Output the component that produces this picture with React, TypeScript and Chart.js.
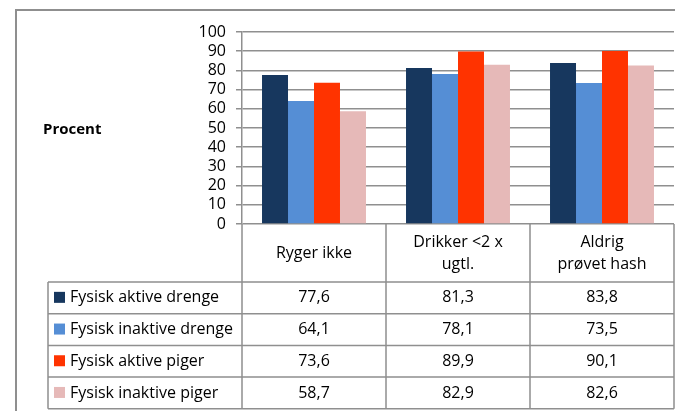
import React, { useEffect, useRef } from "react";
import { Chart, registerables } from "chart.js";

Chart.register(...registerables);

const categories: (string | string[])[] = ["Ryger ikke", ["Drikker <2 x", "ugtl."], ["Aldrig", "prøvet hash"]];
const seriesNames = ["Fysisk aktive drenge", "Fysisk inaktive drenge", "Fysisk aktive piger", "Fysisk inaktive piger"];
const seriesColors = ["#17375e", "#558ed5", "#ff3300", "#e6b9b8"];
const activeBoys = [77.6, 81.3, 83.8];
const inactiveBoys = [64.1, 78.1, 73.5];
const activeGirls = [73.6, 89.9, 90.1];
const inactiveGirls = [58.7, 82.9, 82.6];
const seriesValues = [activeBoys, inactiveBoys, activeGirls, inactiveGirls];
const yMin = 0;
const yMax = 100;
const yStep = 10;
const yTitle = "Procent";

const FONT = "'Open Sans', sans-serif";
const LINE = "#8f8f8f";

const fmt = (v: number) => v.toFixed(1).replace(".", ",");

const tablePlugin = {
  id: "dataTable",
  afterDraw(chart: any) {
    const ctx = chart.ctx as CanvasRenderingContext2D;
    const area = chart.chartArea;
    const n = categories.length;
    const colW = (area.right - area.left) / n;
    const headerBottom = area.bottom + 58;
    const rowH = 31.7;
    const legendLeft = 48;
    const tableBottom = headerBottom + rowH * seriesNames.length;
    ctx.save();
    ctx.strokeStyle = LINE;
    ctx.lineWidth = 2;
    ctx.beginPath();
    ctx.moveTo(16, 411);
    ctx.lineTo(16, 10);
    ctx.lineTo(675, 10);
    ctx.stroke();

    ctx.lineWidth = 1.5;
    ctx.strokeStyle = LINE;
    ctx.beginPath();
    for (let i = 0; i <= n; i++) {
      const x = area.left + i * colW;
      ctx.moveTo(x, area.bottom);
      ctx.lineTo(x, tableBottom);
    }
    ctx.moveTo(legendLeft, headerBottom);
    ctx.lineTo(legendLeft, tableBottom);
    for (let r = 0; r <= seriesNames.length; r++) {
      const y = headerBottom + r * rowH;
      ctx.moveTo(legendLeft, y);
      ctx.lineTo(area.right, y);
    }
    ctx.stroke();

    ctx.fillStyle = "#000";
    ctx.font = `16px ${FONT}`;
    ctx.textAlign = "center";
    ctx.textBaseline = "middle";
    categories.forEach((c, i) => {
      const cx = area.left + (i + 0.5) * colW;
      const lines = Array.isArray(c) ? c : [c];
      const lh = 22;
      const cy = (area.bottom + headerBottom) / 2;
      lines.forEach((l, j) => {
        ctx.fillText(l, cx, cy + (j - (lines.length - 1) / 2) * lh);
      });
    });
    seriesNames.forEach((name, r) => {
      const cy = headerBottom + (r + 0.5) * rowH;
      ctx.fillStyle = seriesColors[r];
      ctx.fillRect(54, cy - 6, 11, 11);
      ctx.fillStyle = "#000";
      ctx.textAlign = "left";
      ctx.fillText(name, 70, cy);
      ctx.textAlign = "center";
      seriesValues[r].forEach((v, i) => {
        ctx.fillText(fmt(v), area.left + (i + 0.5) * colW, cy);
      });
    });
    ctx.font = `bold 15px ${FONT}`;
    ctx.textAlign = "left";
    ctx.fillText(yTitle, 43, 130);
    ctx.restore();
  },
};

export default function App() {
  const ref = useRef<HTMLCanvasElement>(null);
  useEffect(() => {
    if (!ref.current) return;
    const chart = new Chart(ref.current, {
      type: "bar",
      data: {
        labels: categories.map((c) => (Array.isArray(c) ? c.join(" ") : c)),
        datasets: seriesNames.map((name, i) => ({
          label: name,
          data: seriesValues[i],
          backgroundColor: seriesColors[i],
          categoryPercentage: 0.722,
          barPercentage: 1,
        })),
      },
      options: {
        animation: false,
        responsive: false,
        maintainAspectRatio: false,
        layout: { padding: { left: 0, top: 32, right: 1, bottom: 187 } },
        plugins: { legend: { display: false }, tooltip: { enabled: false } },
        scales: {
          x: { display: false },
          y: {
            min: yMin,
            max: yMax,
            afterFit: (s: any) => {
              s.width = 242;
            },
            ticks: {
              stepSize: yStep,
              autoSkip: false,
              color: "#000",
              font: { family: FONT, size: 16 },
              padding: 10,
            },
            grid: { color: LINE, lineWidth: 1.5, tickLength: 6 },
            border: { color: LINE, width: 1.5 },
          },
        },
      },
      plugins: [tablePlugin],
    });
    return () => chart.destroy();
  }, []);
  return (
    <div style={{ position: "fixed", left: 0, top: 0, width: 675, height: 411, background: "#fff" }}>
      <canvas ref={ref} width={675} height={411} style={{ width: 675, height: 411 }} />
    </div>
  );
}
